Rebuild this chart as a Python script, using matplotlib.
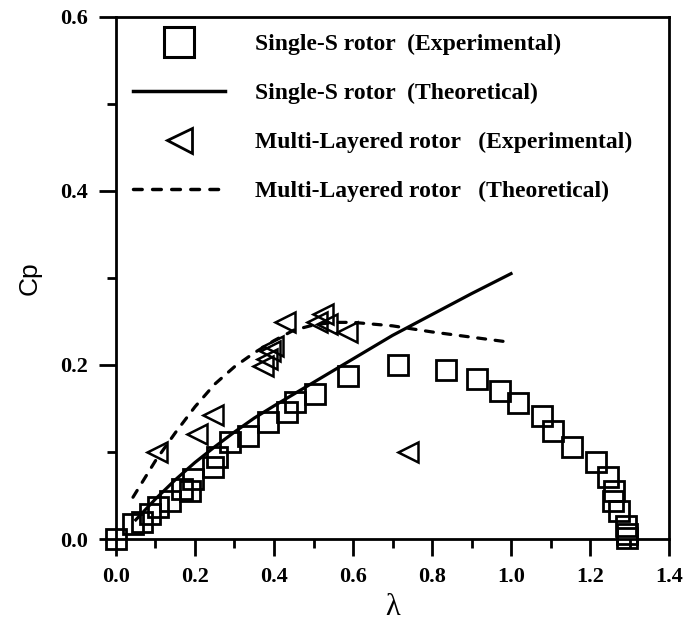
import matplotlib
matplotlib.use('Agg')
import matplotlib.pyplot as plt
from matplotlib.lines import Line2D
from matplotlib.ticker import MultipleLocator

# Single-S rotor, experimental points
ss_exp_lam = [0.0, 0.043, 0.066, 0.086, 0.106, 0.137, 0.167, 0.187, 0.195, 0.246,
              0.256, 0.289, 0.334, 0.385, 0.433, 0.453, 0.504, 0.587, 0.714, 0.835,
              0.914, 0.972, 1.018, 1.078, 1.106, 1.154, 1.215, 1.246, 1.261, 1.258,
              1.273, 1.291, 1.294, 1.294]
ss_exp_cp = [0.0, 0.017, 0.020, 0.029, 0.037, 0.044, 0.057, 0.055, 0.069, 0.083,
             0.094, 0.111, 0.118, 0.134, 0.146, 0.157, 0.167, 0.187, 0.200, 0.194,
             0.184, 0.170, 0.156, 0.141, 0.124, 0.106, 0.089, 0.071, 0.055, 0.044,
             0.032, 0.015, 0.006, 0.001]

# Single-S rotor, theory
ss_th_lam = [0.05, 0.1, 0.15, 0.2, 0.25, 0.3, 0.35, 0.4, 0.5, 0.6, 0.7, 0.8, 0.9, 1.0]
ss_th_cp = [0.022, 0.046, 0.068, 0.088, 0.106, 0.123, 0.139, 0.153, 0.180, 0.207,
            0.234, 0.258, 0.282, 0.305]

# Multi-layered rotor, experimental points
ml_exp_lam = [0.104, 0.205, 0.246, 0.372, 0.382, 0.390, 0.397, 0.428, 0.509, 0.524,
              0.534, 0.585, 0.739]
ml_exp_cp = [0.100, 0.121, 0.143, 0.199, 0.207, 0.216, 0.222, 0.249, 0.249, 0.259,
             0.247, 0.238, 0.100]

# Multi-layered rotor, theory
ml_th_lam = [0.043, 0.1, 0.15, 0.2, 0.25, 0.3, 0.35, 0.4, 0.45, 0.5, 0.55, 0.6,
             0.7, 0.8, 0.9, 1.0]
ml_th_cp = [0.048, 0.090, 0.122, 0.152, 0.178, 0.198, 0.214, 0.228, 0.240, 0.246,
            0.249, 0.249, 0.245, 0.238, 0.232, 0.226]

labels = ['Single-S rotor  (Experimental)',
          'Single-S rotor  (Theoretical)',
          'Multi-Layered rotor   (Experimental)',
          'Multi-Layered rotor   (Theoretical)']

serif = 'Liberation Serif'
dash = (0, (2.5, 3))

fig = plt.figure(figsize=(6.88, 6.24), dpi=100)
ax = fig.add_axes([0.1686, 0.1362, 0.8038, 0.8366])

ax.plot(ss_th_lam, ss_th_cp, color='black', lw=2.3)
ax.plot(ml_th_lam, ml_th_cp, color='black', lw=2.3, linestyle=dash,
        dash_capstyle='round')
ax.plot(ss_exp_lam, ss_exp_cp, linestyle='none', marker='s', ms=14,
        mfc='none', mec='black', mew=2, clip_on=False)
ax.plot(ml_exp_lam, ml_exp_cp, linestyle='none', marker='<', ms=15,
        mfc='none', mec='black', mew=1.8, clip_on=False)

ax.set_xlim(0, 1.4)
ax.set_ylim(0, 0.6)
ax.xaxis.set_major_locator(MultipleLocator(0.2))
ax.xaxis.set_minor_locator(MultipleLocator(0.1))
ax.yaxis.set_major_locator(MultipleLocator(0.2))
ax.yaxis.set_minor_locator(MultipleLocator(0.1))
ax.tick_params(which='both', direction='out', width=2, top=False, right=False)
ax.tick_params(which='major', length=12, pad=8.5)
ax.tick_params(which='minor', length=6.5)
for s in ax.spines.values():
    s.set_linewidth(2)

for lab in ax.get_xticklabels() + ax.get_yticklabels():
    lab.set_fontfamily(serif)
    lab.set_fontweight('bold')
    lab.set_fontsize(16)

ax.set_xlabel('λ', fontfamily=serif, fontsize=22, labelpad=4)
ax.set_ylabel('Cp', fontfamily='Liberation Sans', fontsize=19, labelpad=13)

handles = [
    Line2D([], [], linestyle='none', marker='s', ms=21, mfc='none', mec='black', mew=2.2),
    Line2D([], [], color='black', lw=2.5),
    Line2D([], [], linestyle='none', marker='<', ms=18, mfc='none', mec='black', mew=2),
    Line2D([], [], color='black', lw=2.5, linestyle=dash, dash_capstyle='round'),
]
ax.legend(handles, labels, loc='upper left', bbox_to_anchor=(0.031, 0.968),
          borderaxespad=0, borderpad=0, frameon=False, handlelength=3.9,
          handletextpad=1.27, labelspacing=1.16,
          prop={'family': serif, 'weight': 'bold', 'size': 17})

fig.savefig('out.png', dpi=100)
